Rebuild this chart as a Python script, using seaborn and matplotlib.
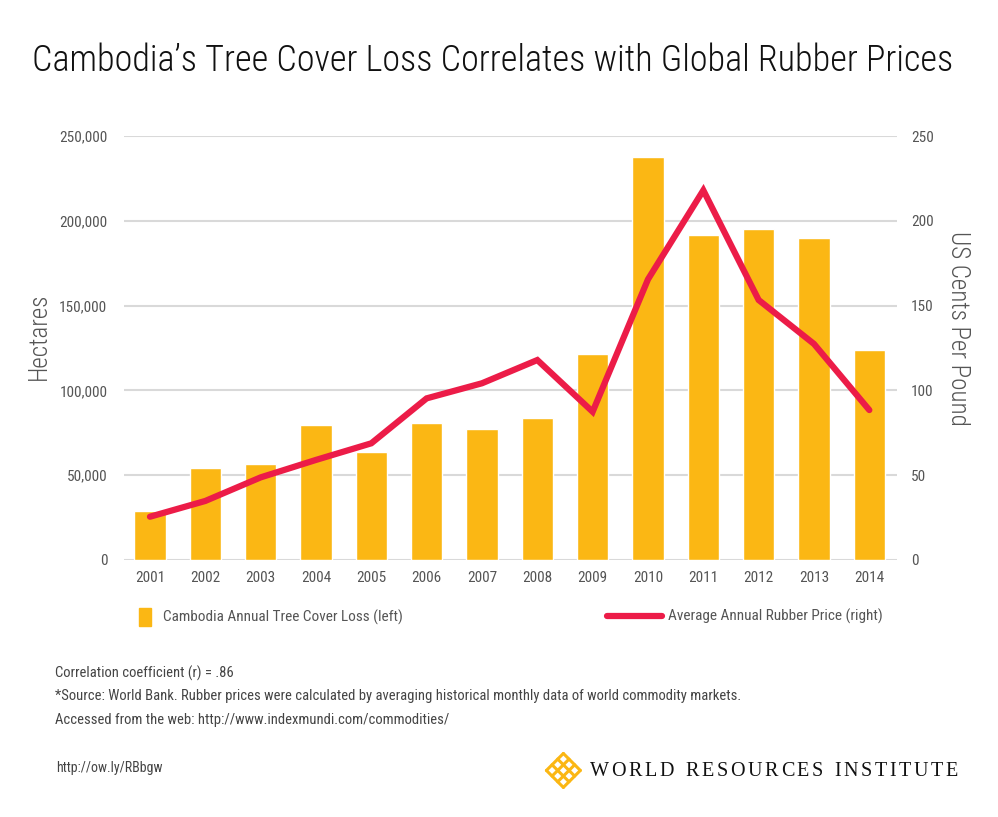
import numpy as np
import pandas as pd
import seaborn as sns
import matplotlib.pyplot as plt
from matplotlib import font_manager
from matplotlib.patches import Patch
from matplotlib.lines import Line2D

# data
years = [str(y) for y in range(2001, 2015)]
tree_loss = [28900, 54000, 56400, 79600, 63900, 80600, 77200, 83900,
             121500, 237800, 191600, 195000, 189700, 123600]
rubber_price = [25.5, 34.8, 48.7, 59.0, 68.8, 95.3, 104.2, 117.9,
                87.4, 165.5, 218.0, 153.3, 127.4, 88.4]
left_ticks = [0, 50000, 100000, 150000, 200000, 250000]
right_ticks = [0, 50, 100, 150, 200, 250]

bar_color = "#FBB714"
line_color = "#EC1C48"
text_gray = "#555555"

sns.set_theme(style="white")

# pick a narrow font if one exists
names = {f.name for f in font_manager.fontManager.ttflist}
narrow = "DejaVu Sans"
for cand in ["Roboto Condensed", "Liberation Sans Narrow", "DejaVu Sans Condensed"]:
    if cand in names:
        narrow = cand
        break
plt.rcParams["font.family"] = [narrow, "DejaVu Sans"]

df = pd.DataFrame({"year": years, "loss": tree_loss, "price": rubber_price})

fig = plt.figure(figsize=(9.98, 8.17), dpi=100)
ax = fig.add_axes([0.1242, 0.3146, 0.7746, 0.5189])

sns.barplot(data=df, x="year", y="loss", color=bar_color, width=0.57,
            saturation=1, ax=ax, zorder=2)
ax.set_ylim(0, 250000)
ax.set_xlim(-0.47, 13.5)
ax.set_yticks(left_ticks)
ax.set_yticklabels([f"{v:,}" for v in left_ticks])
ax.yaxis.grid(True, color="#d9d9d9", linewidth=1.5, zorder=0)
ax.set_axisbelow(True)
for s in ax.spines.values():
    s.set_visible(False)
ax.tick_params(axis="both", length=0, labelsize=11, labelcolor=text_gray)
ax.tick_params(axis="y", pad=12)
ax.tick_params(axis="x", pad=8)
ax.set_xlabel("")
ax.set_ylabel("Hectares", fontsize=18, color=text_gray, fontweight="light")
ax.yaxis.set_label_coords(-0.094, 0.528)

ax2 = ax.twinx()
sns.lineplot(x=np.arange(len(years)), y=df["price"], color=line_color,
             linewidth=4.5, ax=ax2, solid_capstyle="round", solid_joinstyle="miter")
ax2.set_ylim(0, 250)
ax2.set_yticks(right_ticks)
for s in ax2.spines.values():
    s.set_visible(False)
ax2.tick_params(axis="y", length=0, labelsize=11, labelcolor=text_gray, pad=10)
ax2.set_ylabel("US Cents Per Pound", fontsize=18, color=text_gray,
               rotation=270, va="center", fontweight="light")
ax2.yaxis.set_label_coords(1.079, 0.547)

fig.text(0.494, 0.925, "Cambodia\u2019s Tree Cover Loss Correlates with Global Rubber Prices",
         ha="center", va="center", fontsize=26, color="#111111", fontweight="light")

# legend
fig.legend(handles=[Patch(color=bar_color)],
           labels=["Cambodia Annual Tree Cover Loss (left)"],
           loc="center left", bbox_to_anchor=(0.125, 0.245), frameon=False,
           fontsize=11, labelcolor=text_gray, handlelength=0.8,
           handleheight=1.4, handletextpad=0.8)
fig.legend(handles=[Line2D([0], [0], color=line_color, linewidth=4.5,
                           solid_capstyle="round")],
           labels=["Average Annual Rubber Price (right)"],
           loc="center left", bbox_to_anchor=(0.594, 0.245), frameon=False,
           fontsize=11, labelcolor=text_gray, handlelength=3.6,
           handletextpad=0.4)

notes = ["Correlation coefficient (r) = .86",
         "*Source: World Bank. Rubber prices were calculated by averaging historical monthly data of world commodity markets.",
         "Accessed from the web: http://www.indexmundi.com/commodities/"]
for i, t in enumerate(notes):
    fig.text(0.055, 0.176 - i * 0.0285, t, fontsize=10.5, color="#444444", va="center")
fig.text(0.056, 0.060, "http://ow.ly/RBbgw", fontsize=10, color="#444444", va="center")

# WRI logo: letter-spaced serif word mark
renderer = fig.canvas.get_renderer()
x = 0.591 * 998
track = 2.6
for ch in "WORLD RESOURCES INSTITUTE":
    if ch == " ":
        x += 9
        continue
    t = fig.text(x / 998, 0.056, ch, fontsize=14.5, family="Liberation Serif",
                 color="#111111", va="center")
    x += t.get_window_extent(renderer).width + track

# lattice diamond
cx, cy = 0.5645, 0.057
r = 0.017
ry = r * 998 / 817
for k in np.linspace(-1, 1, 4):
    p1 = (cx + k * r / 2 - r / 2, cy + k * ry / 2 + ry / 2)
    p2 = (cx + k * r / 2 + r / 2, cy + k * ry / 2 - ry / 2)
    fig.add_artist(Line2D([p1[0], p2[0]], [p1[1], p2[1]], color=bar_color, linewidth=2.2))
    q1 = (cx - r / 2 + k * r / 2, cy - ry / 2 - k * ry / 2)
    q2 = (cx + r / 2 + k * r / 2, cy + ry / 2 - k * ry / 2)
    fig.add_artist(Line2D([q1[0], q2[0]], [q1[1], q2[1]], color=bar_color, linewidth=2.2))

fig.savefig("out.png", dpi=100, facecolor="white")
